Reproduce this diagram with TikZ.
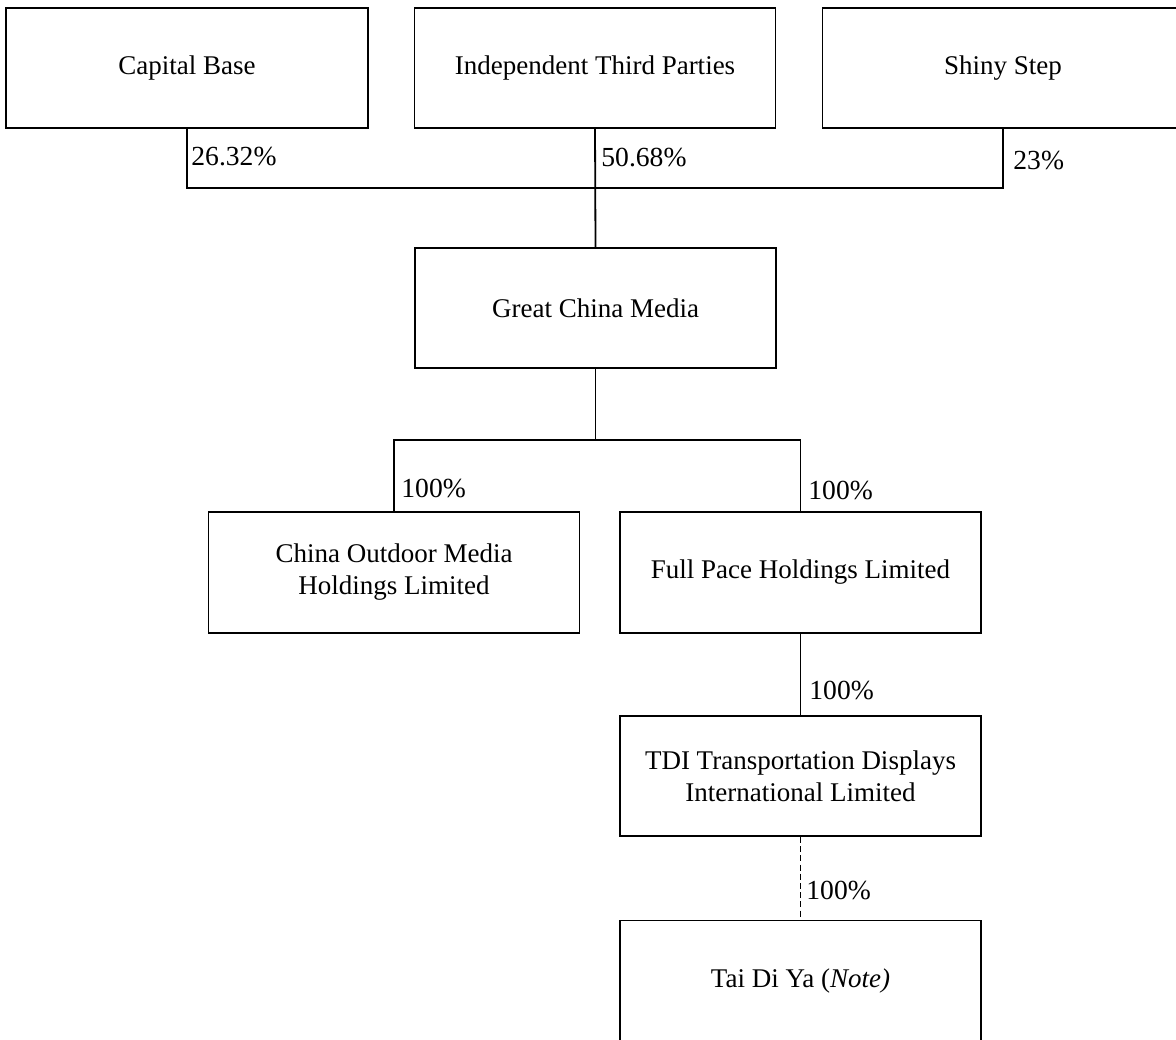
\documentclass[tikz,border=0pt]{standalone}
\usepackage{fontspec}
\setmainfont{Liberation Serif}
\begin{document}
\begin{tikzpicture}[x=0.5pt,y=-0.5pt,
  entity/.style={draw, line width=0.9pt, rectangle, inner sep=0pt, align=center,
    minimum width=180.5pt, minimum height=60pt, font=\fontsize{13.5}{16}\selectfont},
  link/.style={line width=0.9pt},
  pct/.style={anchor=west, inner sep=0pt, font=\fontsize{13.8}{16}\selectfont}]
\clip (0,0) rectangle (1176,1039);
\fill[white] (0,0) rectangle (1176,1039);
% boxes
\node[entity, minimum width=181pt] (cap) at (187,68) {Capital Base};
\node[entity] (itp) at (595,68) {Independent Third Parties};
\node[entity] (shiny) at (1003,68) {Shiny Step};
\node[entity] (gcm) at (595.5,308) {Great China Media};
\node[entity, minimum width=185.5pt, minimum height=60.5pt] (coml) at (394,572.5) {China Outdoor Media\\Holdings Limited};
\node[entity, minimum height=60.5pt] (fph) at (800.5,572.5) {Full Pace Holdings Limited};
\node[entity] (tdi) at (800.5,776) {TDI Transportation Displays\\International Limited};
\node[entity] (tdy) at (800.5,980.5) {Tai Di Ya (\textit{Note)}};
% junctions
\coordinate (j1) at (595,188);
\coordinate (j2) at (595.5,440);
% connectors
\draw[link] (cap.south) |- (j1) -| (shiny.south);
\draw[link] (itp.south) -- (gcm.north);
\draw[link] (gcm.south) -- (j2);
\draw[link] (coml.north) |- (j2) -| (fph.north);
\draw[link] (fph.south) -- (tdi.north);
\draw[line width=0.6pt, dash pattern=on 3pt off 1.6pt] (tdi.south) -- (tdy.north);
% labels
\node[pct] (l1) at (191,157) {26.32\%};
\node[pct] (l2) at (601,158) {50.68\%};
\node[pct] (l3) at (1013,160) {23\%};
\node[pct] (l4) at (401,488) {100\%};
\node[pct] (l5) at (808,490) {100\%};
\node[pct] (l6) at (809,690) {100\%};
\node[pct] (l7) at (806,890) {100\%};
\end{tikzpicture}
\end{document}
